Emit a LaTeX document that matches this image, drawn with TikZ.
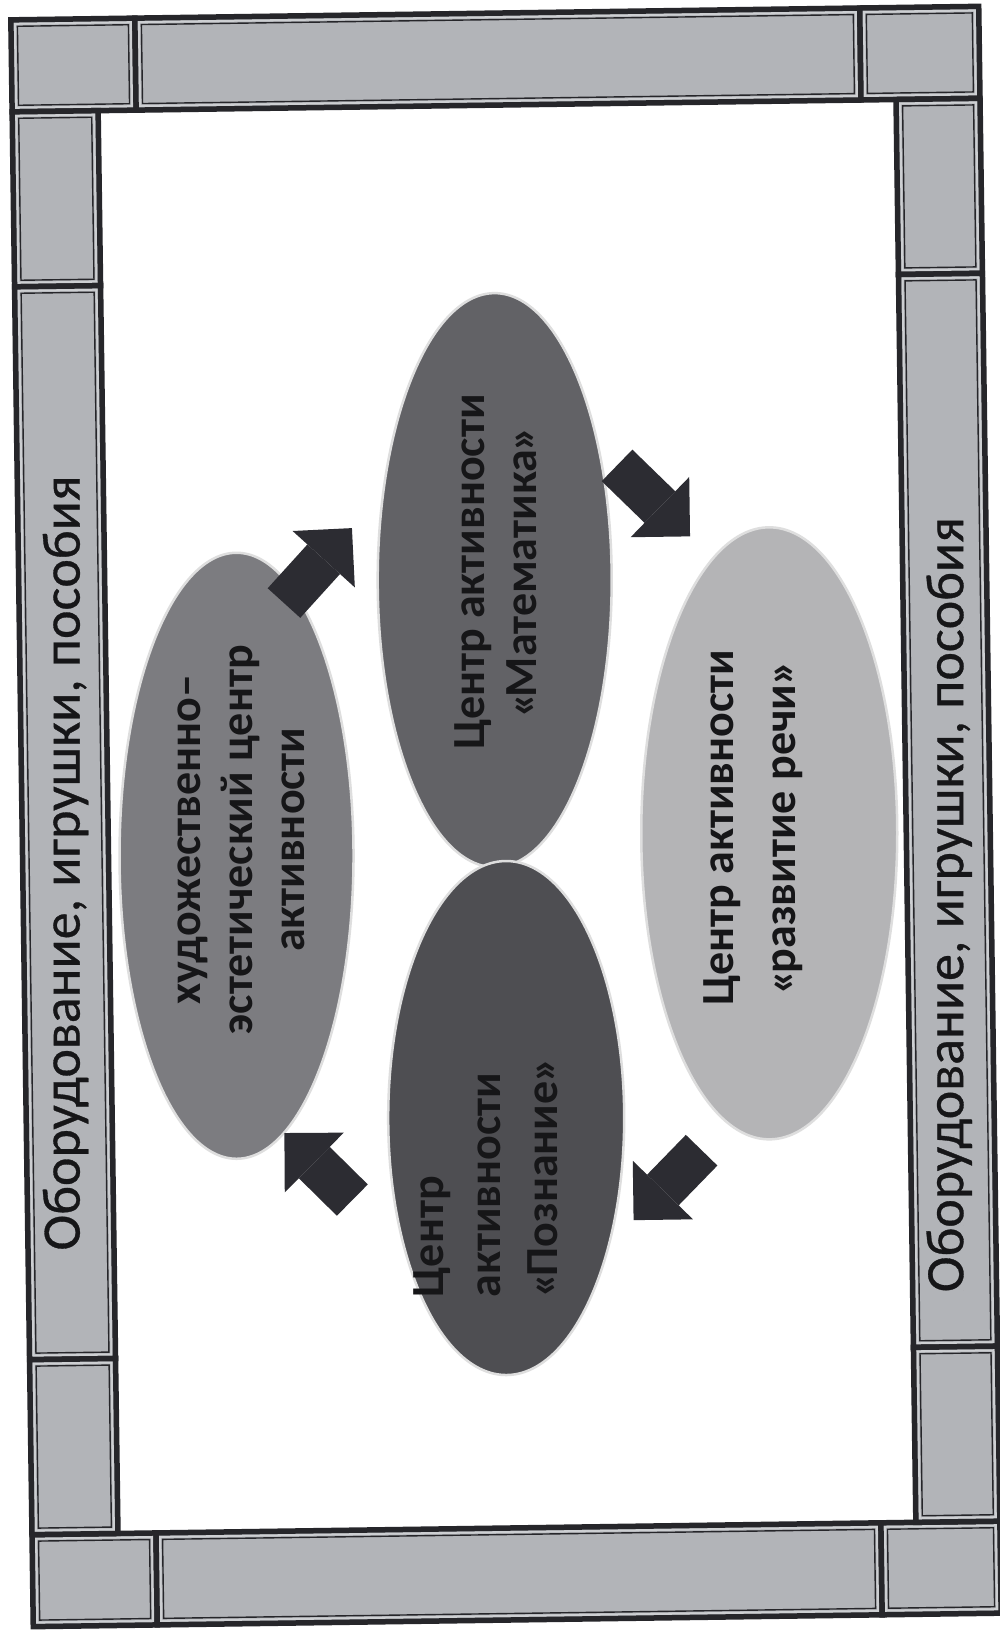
\documentclass[tikz,border=0pt]{standalone}
\usepackage{fontspec}
\setmainfont{Carlito}
\newfontfamily\framefont[FakeBold=0.6]{Carlito}
\usetikzlibrary{arrows.meta,shapes.geometric}
\definecolor{framefill}{RGB}{178,180,184}
\definecolor{framedark}{RGB}{38,38,42}
\definecolor{framelight}{RGB}{205,207,210}
\definecolor{ellA}{RGB}{124,124,128}
\definecolor{ellB}{RGB}{98,98,102}
\definecolor{ellC}{RGB}{180,180,182}
\definecolor{ellD}{RGB}{78,78,82}
\definecolor{ellline}{RGB}{222,222,222}
\definecolor{arrowc}{RGB}{44,44,50}
\definecolor{txt}{RGB}{22,22,24}
\newcommand{\framecell}[4]{%
  \fill[framefill] (#1,#2) rectangle (#3,#4);
  \draw[framelight, line width=2pt] ([shift={(4,4)}]#1,#2) rectangle ([shift={(-4,-4)}]#3,#4);
  \draw[framedark, line width=1.4pt] ([shift={(6.5,6.5)}]#1,#2) rectangle ([shift={(-6.5,-6.5)}]#3,#4);
  \draw[framedark, line width=5.5pt] (#1,#2) rectangle (#3,#4);
}
\newcommand{\myopq}{«\kern-4pt}
\newcommand{\myclq}{\kern-1pt»}
\tikzset{
  ell/.style={ellipse, draw=ellline, line width=2.5pt, inner sep=0pt},
  etext/.style={rotate=90, align=center, text=txt, inner sep=0pt,
    font=\bfseries\fontsize{46}{52}\selectfont},
  ftext/.style={rotate=90, text=txt, inner sep=0pt,
    font=\framefont\fontsize{54}{60}\selectfont},
  blockarr/.style={line width=44pt, draw=arrowc, line cap=butt,
    -{Triangle[length=42pt,width=84pt,line width=0pt]}},
}
\begin{document}
\begin{tikzpicture}[x=1pt,y=-1pt]
\useasboundingbox (0,0) rectangle (999,1635);
\fill[white] (0,0) rectangle (999,1635);
\begin{scope}[rotate around={0.8:(506,817)}]
  % top bar
  \framecell{22}{13}{146}{105}
  \framecell{146}{13}{871}{105}
  \framecell{871}{13}{990}{105}
  % bottom bar
  \framecell{22}{1528}{146}{1620}
  \framecell{146}{1528}{871}{1620}
  \framecell{871}{1528}{990}{1620}
  % left column
  \framecell{22}{105}{108}{280}
  \framecell{22}{280}{108}{1353}
  \framecell{22}{1353}{108}{1528}
  % right column
  \framecell{906}{105}{990}{280}
  \framecell{906}{280}{990}{1353}
  \framecell{906}{1353}{990}{1528}
  % frame texts
  \node[ftext] (lefttext) at (65,857) {Оборудование, игрушки, пособия};
  \node[ftext] (righttext) at (948,911) {Оборудование, игрушки, пособия};
  % ellipses
  \node[ell, fill=ellA, minimum width=234pt, minimum height=606pt] (khud) at (236,852) {};
  \node[ell, fill=ellB, minimum width=234pt, minimum height=574pt] (math) at (498,580) {};
  \node[ell, fill=ellC, minimum width=256pt, minimum height=612pt] (rech) at (769,837) {};
  \node[ell, fill=ellD, minimum width=236pt, minimum height=514pt] (pozn) at (502,1118) {};
  % ellipse texts
  \node[etext] (khudtext) at (241,836) {художественно–\\эстетический центр\\активности};
  \node[etext] (mathtext) at (499,572) {Центр активности\\\myopq Математика\myclq};
  \node[etext, font=\bfseries\fontsize{46}{62}\selectfont] (rechtext) at (753,831) {Центр активности\\\myopq развитие речи\myclq};
  \node[etext, align=left, anchor=west, font=\bfseries\fontsize{46}{57}\selectfont] (pozntext) at (479,1297) {Центр\\активности\\\myopq Познание\myclq};
  % arrows
  \coordinate (a1t) at (287,600); \coordinate (a1h) at (356,526);
  \coordinate (a2t) at (622,467); \coordinate (a2h) at (694,539);
  \coordinate (a3t) at (697,1153); \coordinate (a3h) at (628,1222);
  \coordinate (a4t) at (347,1198); \coordinate (a4h) at (280,1130);
  \draw[blockarr] (a1t) -- (a1h);
  \draw[blockarr] (a2t) -- (a2h);
  \draw[blockarr] (a3t) -- (a3h);
  \draw[blockarr] (a4t) -- (a4h);
\end{scope}
\end{tikzpicture}
\end{document}
